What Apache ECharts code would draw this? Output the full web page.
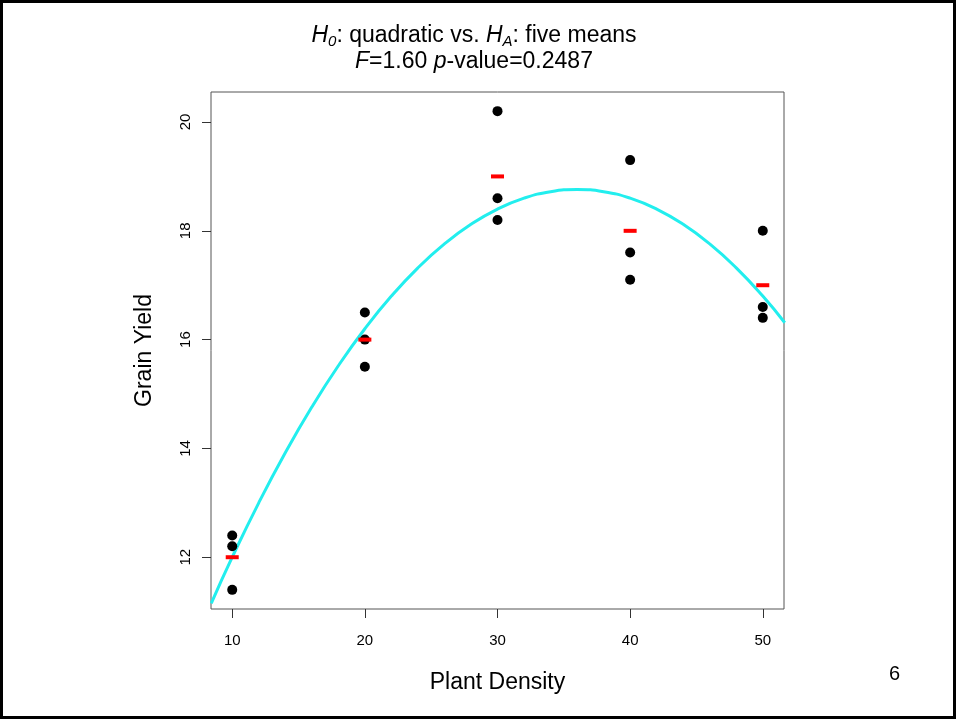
<!DOCTYPE html>
<html><head><meta charset="utf-8">
<script src="https://cdn.jsdelivr.net/npm/echarts@6/dist/echarts.min.js"></script>
<style>html,body{margin:0;padding:0;background:#fff}#c{width:957px;height:720px}</style>
</head><body><div id="c"></div>
<script>
// observations
const density = [10,10,10,20,20,20,30,30,30,40,40,40,50,50,50];
const yieldVals = [12.4,12.2,11.4,16.5,16.0,15.5,20.2,18.6,18.2,19.3,17.6,17.1,18.0,16.6,16.4];
// group means
const meanX = [10,20,30,40,50];
const meanY = [12.0,16.0,19.0,18.0,17.0];
// fitted quadratic curve
const curveX = [8.42,10,12,14,16,18,20,22,24,26,28,30,32,34,36,38,40,42,44,46,48,50,51.66];
const curveY = [11.15,12.0,13.0,13.92,14.76,15.52,16.2,16.8,17.32,17.76,18.12,18.4,18.6,18.72,18.76,18.72,18.6,18.4,18.12,17.76,17.32,16.8,16.31];
const xTicks = [10,20,30,40,50];
const yTicks = [12,14,16,18,20];

const FONT = '"Liberation Sans", Arial, sans-serif';
const chart = echarts.init(document.getElementById('c'), null, {renderer:'canvas'});
chart.setOption({
  animation:false,
  backgroundColor:'#fff',
  title:{
    text:'{i|H}{s|0}{n|: quadratic vs. }{i|H}{s|A}{n|: five means}\n{i|F}{n|=1.60 }{i|p}{n|-value=0.2487}',
    left:469, top:18, textAlign:'center',
    textStyle:{
      fontFamily:FONT, fontSize:23, color:'#000', fontWeight:'normal',
      rich:{
        n:{fontFamily:FONT,fontSize:23,lineHeight:26,color:'#000'},
        i:{fontFamily:FONT,fontSize:23,lineHeight:26,fontStyle:'italic',color:'#000'},
        s:{fontFamily:FONT,fontSize:15,lineHeight:15,fontStyle:'italic',verticalAlign:'bottom',color:'#000'}
      }
    }
  },
  grid:{left:211, top:92, right:173, bottom:111, show:true, borderColor:'#555', borderWidth:1, backgroundColor:'transparent'},
  xAxis:{
    type:'value', min:8.4, max:51.6,
    name:'Plant Density', nameLocation:'middle', nameGap:62,
    nameTextStyle:{fontFamily:FONT,fontSize:23,color:'#000'},
    axisLine:{show:false},
    splitLine:{show:false},
    axisTick:{show:true, length:9, lineStyle:{color:'#333'}, customValues:xTicks},
    axisLabel:{fontFamily:FONT,fontSize:15,color:'#000',margin:24, customValues:xTicks}
  },
  yAxis:{
    type:'value', min:11.048, max:20.552,
    name:'Grain Yield', nameLocation:'middle', nameGap:55,
    nameTextStyle:{fontFamily:FONT,fontSize:23,color:'#000'},
    axisLine:{show:false},
    splitLine:{show:false},
    axisTick:{show:true, length:9, lineStyle:{color:'#333'}, customValues:yTicks},
    axisLabel:{fontFamily:FONT,fontSize:15,color:'#000',margin:18, rotate:90, customValues:yTicks}
  },
  series:[
    {type:'line', data:curveX.map((x,i)=>[x,curveY[i]]), smooth:true, showSymbol:false,
     lineStyle:{color:'#22EEEE', width:3}, clip:true, z:2},
    {type:'scatter', data:density.map((x,i)=>[x,yieldVals[i]]), symbol:'circle', symbolSize:10,
     itemStyle:{color:'#000', opacity:1}, z:3},
    {type:'scatter', data:meanX.map((x,i)=>[x,meanY[i]]), symbol:'rect', symbolSize:[13,4],
     itemStyle:{color:'#FF0000', opacity:1}, z:4}
  ],
  graphic:[
    {type:'rect', shape:{x:1.5,y:1.5,width:953,height:716}, style:{fill:'none',stroke:'#000',lineWidth:3}, silent:true},
    {type:'text', left:889, top:664, style:{text:'6', fontFamily:FONT, fontSize:20, fill:'#000'}}
  ]
});
</script></body></html>
